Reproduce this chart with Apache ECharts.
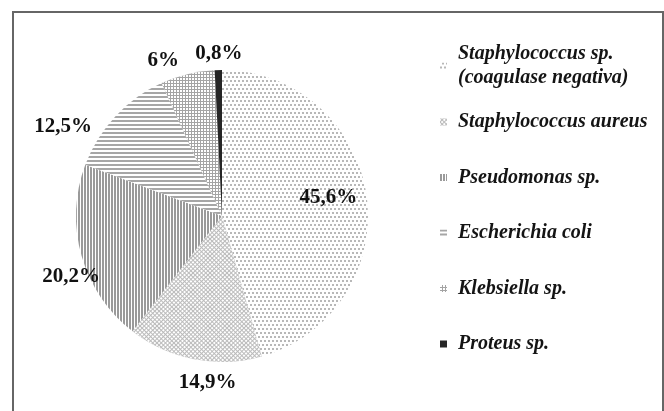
<!DOCTYPE html>
<html>
<head>
    <meta charset="utf-8" />
    <title>Pie chart</title>
    <script type="text/javascript" src="https://cdn.jsdelivr.net/npm/echarts/dist/echarts.min.js"></script>
    <style>
        html, body { margin: 0; padding: 0; background: #fff; overflow: hidden; }
        #frame { position: absolute; left: 12px; top: 11px; width: 648px; height: 420px;
                 border: 2px solid #666; pointer-events: none; }
    </style>
</head>
<body>
<div id="main" style="width: 664px;height:411px;"></div>
<div id="frame"></div>
<script type="text/javascript">
    // data
    var names = ['Staphylococcus sp. (coagulase negativa)', 'Staphylococcus aureus', 'Pseudomonas sp.',
        'Escherichia coli', 'Klebsiella sp.', 'Proteus sp.'];
    var percents = [45.6, 14.9, 20.2, 12.5, 6, 0.8];

    // fills: base colour + pattern on top
    var fills = ['#ffffff', '#bbbbbb', '#ffffff', '#ffffff', '#a4a4a4', '#262626'];
    var decals = [
        {color: '#b8b8b8', dashArrayX: [[2, 2], [0, 2, 2, 0]], dashArrayY: [2, 2], rotation: 0},
        {color: '#ffffff', dashArrayX: [2, 1], dashArrayY: [2, 1], rotation: Math.PI / 4},
        {color: '#9a9a9a', dashArrayX: [2, 1], dashArrayY: [10, 0], rotation: 0},
        {color: '#a6a6a6', dashArrayX: [10, 0], dashArrayY: [2, 1.5], rotation: 0},
        {color: '#ffffff', dashArrayX: [2, 1], dashArrayY: [2, 1], rotation: 0},
        {symbol: 'none'}
    ];
    // small nudges of the percent labels (Excel placed them by hand)
    var labelNudge = [[-52, 4], [16, 10], [3, 17], [-42, 20], [-21, 0], [1, -2]];

    var pieData = [];
    for (var i = 0; i < names.length; i++) {
        var d = Object.assign({symbol: 'rect', symbolSize: 1, symbolKeepAspect: false}, decals[i]);
        pieData.push({
            name: names[i],
            value: percents[i],
            itemStyle: {color: fills[i], decal: d}
        });
    }

    var legendText = {
        fontFamily: 'Liberation Serif',
        fontStyle: 'italic',
        fontWeight: 'bold',
        fontSize: 20,
        lineHeight: 24,
        color: '#141414'
    };

    var myChart = echarts.init(document.getElementById('main'));
    var option = {
        animation: false,
        backgroundColor: '#ffffff',
        aria: {enabled: true, decal: {show: true}},
        legend: [
            {
                // first entry has two lines, marker sits on the first one
                orient: 'vertical',
                left: 440,
                top: 30,
                padding: 0,
                itemWidth: 7,
                itemHeight: 7,
                icon: 'rect',
                selectedMode: false,
                data: [names[0]],
                formatter: function (name) {
                    return 'Staphylococcus sp.\n(coagulase negativa)';
                },
                textStyle: Object.assign({padding: [24, 0, 0, 6]}, legendText)
            },
            {
                orient: 'vertical',
                left: 440,
                top: 110,
                padding: 0,
                itemGap: 31.5,
                itemWidth: 7,
                itemHeight: 7,
                icon: 'rect',
                selectedMode: false,
                data: names.slice(1),
                textStyle: Object.assign({padding: [0, 0, 0, 6]}, legendText)
            }
        ],
        series: [
            {
                name: 'Agentes',
                type: 'pie',
                center: [222, 216],
                radius: 146,
                startAngle: 90,
                clockwise: true,
                avoidLabelOverlap: false,
                emphasis: {disabled: true},
                itemStyle: {borderWidth: 0},
                label: {
                    show: true,
                    position: 'outside',
                    distanceToLabelLine: 0,
                    fontFamily: 'Liberation Serif',
                    fontWeight: 'bold',
                    fontSize: 21,
                    color: '#111111',
                    formatter: function (p) {
                        return String(p.value).replace('.', ',') + '%';
                    }
                },
                labelLine: {show: false, length: 14, length2: 0},
                labelLayout: function (p) {
                    var n = labelNudge[p.dataIndex];
                    return {align: 'center', verticalAlign: 'middle', dx: n[0], dy: n[1]};
                },
                data: pieData
            }
        ]
    };
    myChart.setOption(option);
</script>
</body>
</html>
